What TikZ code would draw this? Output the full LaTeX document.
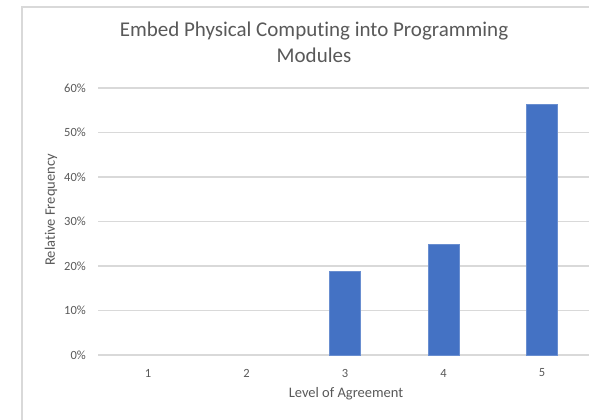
\documentclass[tikz,border=0pt]{standalone}
\usepackage{fontspec}
\setmainfont[Ligatures=NoCommon]{Carlito}
\definecolor{txt}{HTML}{595959}
\definecolor{grid}{HTML}{D9D9D9}
\definecolor{bar}{HTML}{4472C4}
\begin{document}
\begin{tikzpicture}[x=1pt,y=-1pt,
  gridline/.style={draw=grid,line width=1.6pt},
  ticklab/.style={text=txt,font=\fontsize{12.5}{14}\selectfont,inner sep=0pt},
  axtitle/.style={text=txt,font=\fontsize{14.5}{17}\selectfont,inner sep=0pt},
  barbox/.style={fill=bar,draw=bar!80!white,line width=0.5pt}]
\useasboundingbox (0,0) rectangle (589,420);
\fill[white] (0,0) rectangle (589,420);
% chart frame
\draw[grid,line width=2pt] (22,420) -- (22,7) -- (589,7);
% title
\node[text=txt,font=\fontsize{21}{26}\selectfont,align=center,inner sep=0pt] (title) at (314,42)
  {Embed Physical Computing into Programming\\Modules};
% gridlines and value labels
\foreach \v in {0,10,...,60}{
  \pgfmathsetmacro{\yy}{355-4.45*\v}
  \draw[gridline] (98,\yy) -- (589,\yy);
  \node[ticklab,anchor=east] (y\v) at (86,\yy) {\v\%};
}
% bars: relative frequencies per level
\foreach \i/\val in {3/18.75,4/25,5/56.25}{
  \pgfmathsetmacro{\xc}{148+98.5*(\i-1)}
  \pgfmathsetmacro{\yt}{355-4.45*\val}
  \draw[barbox] (\xc-15.5,355) rectangle (\xc+15.5,\yt);
}
% category labels
\foreach \i in {1,...,5}{
  \pgfmathsetmacro{\xc}{148+98.5*(\i-1)}
  \node[ticklab] (x\i) at (\xc,373) {\i};
}
% axis titles
\node[axtitle] (xtitle) at (346,394) {Level of Agreement};
\node[axtitle,rotate=90] (ytitle) at (51,210) {Relative Frequency};
\end{tikzpicture}
\end{document}
